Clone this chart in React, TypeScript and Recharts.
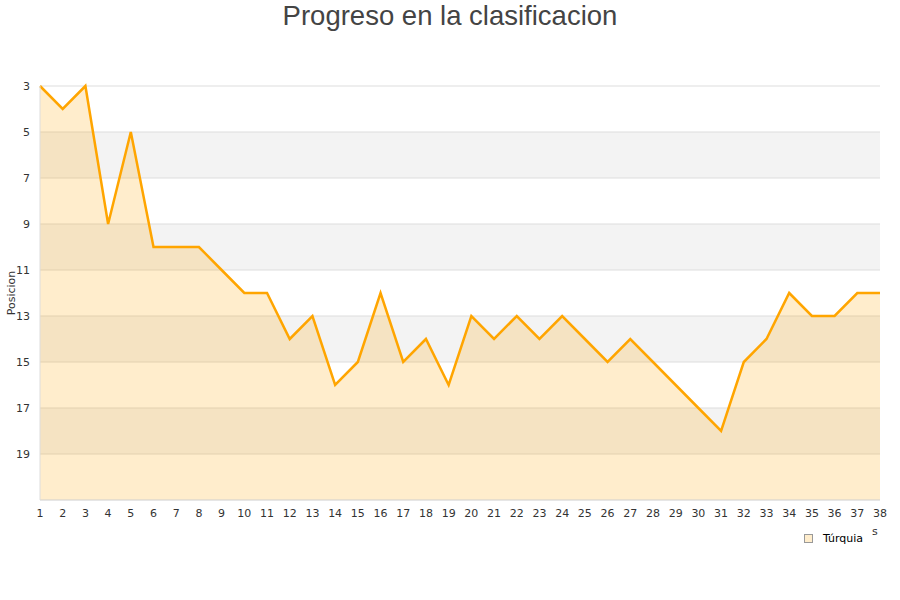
import {
  AreaChart,
  Area,
  XAxis,
  YAxis,
  CartesianGrid,
} from "recharts";

// jornadas 1..38
const rounds = [
  1, 2, 3, 4, 5, 6, 7, 8, 9, 10, 11, 12, 13, 14, 15, 16, 17, 18, 19, 20,
  21, 22, 23, 24, 25, 26, 27, 28, 29, 30, 31, 32, 33, 34, 35, 36, 37, 38,
];
const positions = [
  3, 4, 3, 9, 5, 10, 10, 10, 11, 12, 12, 14, 13, 16, 15, 12, 15, 14, 16, 13,
  14, 13, 14, 13, 14, 15, 14, 15, 16, 17, 18, 15, 14, 12, 13, 13, 12, 12,
];
const yTicks = [3, 5, 7, 9, 11, 13, 15, 17, 19];
const teamName = "Túrquia";

const data = rounds.map((r, i) => ({ jornada: r, pos: positions[i] }));

const tickStyle = { fill: "#333", fontSize: 11, fontFamily: "DejaVu Sans" };

export default function App() {
  return (
    <div style={{ position: "absolute", left: 0, top: 0, width: 900, height: 600, background: "#fff" }}>
      <div
        style={{
          position: "absolute",
          top: 0,
          left: 0,
          width: 900,
          textAlign: "center",
          fontFamily: "Liberation Sans",
          fontSize: 27.5,
          color: "#444",
          lineHeight: "32px",
        }}
      >
        Progreso en la clasificacion
      </div>
      <div
        style={{
          position: "absolute",
          left: 872,
          top: 525,
          fontFamily: "DejaVu Sans",
          fontSize: 11,
          color: "#333",
        }}
      >
        s
      </div>
      <div
        style={{
          position: "absolute",
          left: 804,
          top: 532,
          display: "flex",
          alignItems: "center",
          fontFamily: "DejaVu Sans",
          fontSize: 11,
          color: "#000",
        }}
      >
        <span
          style={{
            width: 7,
            height: 7,
            border: "1px solid #999",
            background: "#ffedcc",
            display: "inline-block",
            marginRight: 10,
          }}
        />
        {teamName}
      </div>
      <AreaChart
        width={900}
        height={600}
        data={data}
        margin={{ top: 86, right: 20, bottom: 70, left: 0 }}
      >
        <CartesianGrid
          yAxisId="l"
          vertical={false}
          stroke="#dddddd"
          horizontalFill={["#ffffff", "#f3f3f3"]}
        />
        <XAxis
          dataKey="jornada"
          type="number"
          domain={[1, 38]}
          ticks={rounds}
          interval={0}
          height={30}
          tickLine={false}
          axisLine={{ stroke: "#dddddd" }}
          tick={tickStyle}
          tickMargin={3}
        />
        <YAxis
          yAxisId="l"
          reversed
          domain={[3, 21]}
          ticks={yTicks}
          interval={0}
          width={40}
          tickLine={false}
          axisLine={{ stroke: "#dddddd" }}
          tick={tickStyle}
          tickMargin={4}
          label={{
            value: "Posicion",
            angle: -90,
            position: "insideLeft",
            offset: 11,
            style: { textAnchor: "middle", fontSize: 11, fontFamily: "DejaVu Sans", fill: "#333" },
          }}
        />
        <YAxis
          yAxisId="r"
          orientation="right"
          reversed
          domain={[3, 21]}
          width={0}
          tick={false}
          tickLine={false}
          axisLine={{ stroke: "#dddddd" }}
        />
        <Area
          yAxisId="l"
          type="linear"
          dataKey="pos"
          name={teamName}
          stroke="#ffa500"
          strokeWidth={2.5}
          fill="#ffa500"
          fillOpacity={0.2}
          baseValue={21}
          dot={false}
          activeDot={false}
          isAnimationActive={false}
        />
      </AreaChart>
    </div>
  );
}
